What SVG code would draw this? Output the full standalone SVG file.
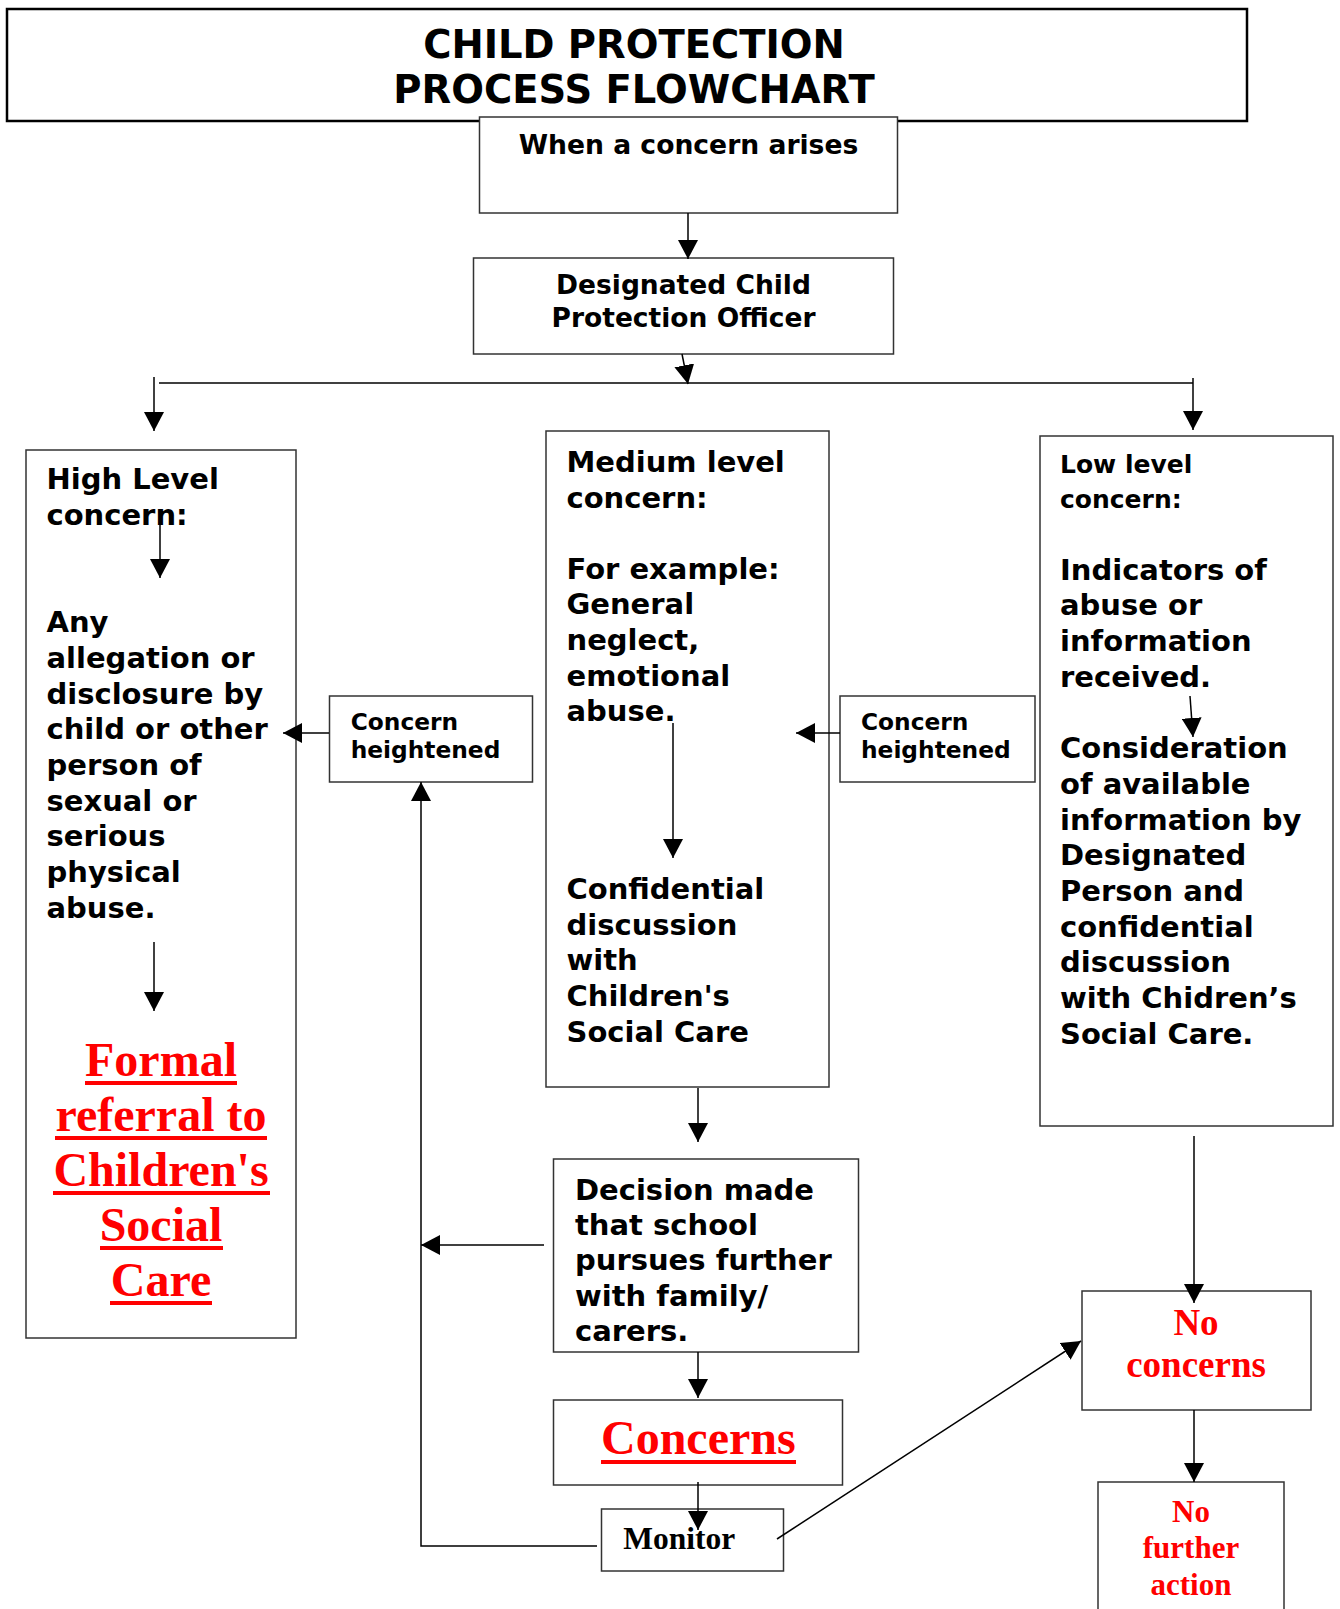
<svg xmlns="http://www.w3.org/2000/svg" width="1340" height="1609" viewBox="0 0 1340 1609">
<style>
.box{fill:#fff;stroke:#333;stroke-width:1.5}
.t{font-family:"DejaVu Sans","Verdana",sans-serif;font-weight:bold;fill:#000}
.b29{font-size:29px}
.r{font-family:"Liberation Serif","Times New Roman",serif;font-weight:bold;fill:#ff0000}
.k{font-family:"Liberation Serif","Times New Roman",serif;font-weight:bold;fill:#000}
.ul{fill:#ff0000}
.c{fill:none;stroke:#000;stroke-width:1.5}
</style>
<defs>
<marker id="ah" markerUnits="userSpaceOnUse" markerWidth="19" markerHeight="20" viewBox="0 0 19 20" refX="19" refY="10" orient="auto">
<path d="M0,0 L19,10 L0,20 z" fill="#000"/>
</marker>
</defs>
<rect width="1340" height="1609" fill="#fff"/>

<g id="title">
<rect x="7" y="9" width="1240" height="112" fill="#fff" stroke="#000" stroke-width="2.5"/>
<text class="t" x="634" y="58" font-size="38.5" text-anchor="middle">CHILD PROTECTION</text>
<text class="t" x="634" y="103" font-size="38.5" text-anchor="middle">PROCESS FLOWCHART</text>
</g>

<g id="when">
<rect class="box" x="479.5" y="117" width="418" height="96"/>
<text class="t" x="688.5" y="154" font-size="26.6" text-anchor="middle">When a concern arises</text>
</g>

<g id="dcpo">
<rect class="box" x="473.5" y="258" width="420" height="96"/>
<text class="t" x="683.5" y="294" font-size="26.5" text-anchor="middle">Designated Child</text>
<text class="t" x="683.5" y="327" font-size="26.5" text-anchor="middle">Protection Officer</text>
</g>

<g id="high">
<rect class="box" x="26" y="450" width="270" height="888"/>
<text class="t b29" x="46.5">
<tspan x="46.5" y="489.3">High Level</tspan>
<tspan x="46.5" y="525">concern:</tspan>
<tspan x="46.5" y="632.1">Any</tspan>
<tspan x="46.5" y="667.8">allegation or</tspan>
<tspan x="46.5" y="703.5">disclosure by</tspan>
<tspan x="46.5" y="739.2">child or other</tspan>
<tspan x="46.5" y="774.9">person of</tspan>
<tspan x="46.5" y="810.6">sexual or</tspan>
<tspan x="46.5" y="846.3">serious</tspan>
<tspan x="46.5" y="882">physical</tspan>
<tspan x="46.5" y="917.7">abuse.</tspan>
</text>
<text class="r" font-size="48" text-anchor="middle"><tspan x="161" y="1076">Formal</tspan><tspan x="161" y="1131">referral to</tspan><tspan x="161" y="1186">Children's</tspan><tspan x="161" y="1241">Social</tspan><tspan x="161" y="1296">Care</tspan></text>
<rect class="ul" x="85" y="1081" width="152" height="4"/>
<rect class="ul" x="55" y="1136" width="212" height="4"/>
<rect class="ul" x="53" y="1191" width="217" height="4"/>
<rect class="ul" x="100" y="1246" width="123" height="4"/>
<rect class="ul" x="110" y="1301" width="102" height="4"/>
</g>

<g id="heightened-left">
<rect class="box" x="329.5" y="696" width="203" height="86"/>
<text class="t" font-size="23.3"><tspan x="350.7" y="730">Concern</tspan><tspan x="350.7" y="758.3">heightened</tspan></text>
</g>

<g id="medium">
<rect class="box" x="546" y="431" width="283" height="656"/>
<text class="t b29">
<tspan x="566.5" y="472">Medium level</tspan>
<tspan x="566.5" y="507.6">concern:</tspan>
<tspan x="566.5" y="578.8">For example:</tspan>
<tspan x="566.5" y="614.4">General</tspan>
<tspan x="566.5" y="650">neglect,</tspan>
<tspan x="566.5" y="685.6">emotional</tspan>
<tspan x="566.5" y="721.2">abuse.</tspan>
<tspan x="566.5" y="899.2">Confidential</tspan>
<tspan x="566.5" y="934.8">discussion</tspan>
<tspan x="566.5" y="970.4">with</tspan>
<tspan x="566.5" y="1006">Children's</tspan>
<tspan x="566.5" y="1041.6">Social Care</tspan>
</text>
</g>

<g id="heightened-right">
<rect class="box" x="840" y="696" width="195" height="86"/>
<text class="t" font-size="23.3"><tspan x="861" y="730">Concern</tspan><tspan x="861" y="758.3">heightened</tspan></text>
</g>

<g id="low">
<rect class="box" x="1040" y="436" width="293" height="690"/>
<text class="t" font-size="25"><tspan x="1060" y="472.5">Low level</tspan><tspan x="1060" y="508.2">concern:</tspan></text>
<text class="t b29">
<tspan x="1060" y="579.6">Indicators of</tspan>
<tspan x="1060" y="615.3">abuse or</tspan>
<tspan x="1060" y="651">information</tspan>
<tspan x="1060" y="686.7">received.</tspan>
<tspan x="1060" y="758.1">Consideration</tspan>
<tspan x="1060" y="793.8">of available</tspan>
<tspan x="1060" y="829.5">information by</tspan>
<tspan x="1060" y="865.2">Designated</tspan>
<tspan x="1060" y="900.9">Person and</tspan>
<tspan x="1060" y="936.6">confidential</tspan>
<tspan x="1060" y="972.3">discussion</tspan>
<tspan x="1060" y="1008">with Chidren’s</tspan>
<tspan x="1060" y="1043.7">Social Care.</tspan>
</text>
</g>

<g id="decision">
<rect class="box" x="553.5" y="1159" width="305" height="193"/>
<text class="t b29">
<tspan x="575" y="1199.5">Decision made</tspan>
<tspan x="575" y="1234.9">that school</tspan>
<tspan x="575" y="1270.3">pursues further</tspan>
<tspan x="575" y="1305.7">with family/</tspan>
<tspan x="575" y="1341.1">carers.</tspan>
</text>
</g>

<g id="concerns">
<rect class="box" x="553.5" y="1400" width="289" height="85"/>
<text class="r" x="698.3" y="1454" font-size="48" text-anchor="middle">Concerns</text>
<rect class="ul" x="601" y="1460" width="195" height="4"/>
</g>

<g id="monitor">
<rect class="box" x="601.5" y="1509" width="182" height="62"/>
<text class="k" x="623.3" y="1549" font-size="31.5">Monitor</text>
</g>

<g id="no-concerns">
<rect class="box" x="1082" y="1291" width="229" height="119"/>
<text class="r" font-size="37" text-anchor="middle"><tspan x="1196" y="1335">No</tspan><tspan x="1196" y="1377.3">concerns</tspan></text>
</g>

<g id="no-further-action">
<rect class="box" x="1098" y="1482" width="186" height="140"/>
<text class="r" font-size="31" text-anchor="middle"><tspan x="1191" y="1521.7">No</tspan><tspan x="1191" y="1557.7">further</tspan><tspan x="1191" y="1595">action</tspan></text>
</g>

<g id="connectors">
<line class="c" x1="688" y1="213" x2="688" y2="259" marker-end="url(#ah)"/>
<line class="c" x1="682" y1="354" x2="688" y2="384" marker-end="url(#ah)"/>
<line class="c" x1="159" y1="383" x2="1193" y2="383"/>
<line class="c" x1="154" y1="377" x2="154" y2="431" marker-end="url(#ah)"/>
<line class="c" x1="1193" y1="378" x2="1193" y2="430" marker-end="url(#ah)"/>
<line class="c" x1="160" y1="525" x2="160" y2="578" marker-end="url(#ah)"/>
<line class="c" x1="154" y1="942" x2="154" y2="1011" marker-end="url(#ah)"/>
<line class="c" x1="329" y1="733" x2="283" y2="733" marker-end="url(#ah)"/>
<line class="c" x1="840" y1="733" x2="796" y2="733" marker-end="url(#ah)"/>
<line class="c" x1="673" y1="723" x2="673" y2="858" marker-end="url(#ah)"/>
<line class="c" x1="698" y1="1088" x2="698" y2="1142" marker-end="url(#ah)"/>
<line class="c" x1="698" y1="1352" x2="698" y2="1398" marker-end="url(#ah)"/>
<line class="c" x1="698" y1="1482" x2="698" y2="1530" marker-end="url(#ah)"/>
<polyline class="c" points="597,1546 421,1546 421,782" marker-end="url(#ah)"/>
<line class="c" x1="544" y1="1245" x2="421" y2="1245" marker-end="url(#ah)"/>
<line class="c" x1="777" y1="1539" x2="1081" y2="1341" marker-end="url(#ah)"/>
<line class="c" x1="1194" y1="1136" x2="1194" y2="1303" marker-end="url(#ah)"/>
<line class="c" x1="1194" y1="1410" x2="1194" y2="1482" marker-end="url(#ah)"/>
<line class="c" x1="1190" y1="696" x2="1193" y2="737" marker-end="url(#ah)"/>
</g>
</svg>
